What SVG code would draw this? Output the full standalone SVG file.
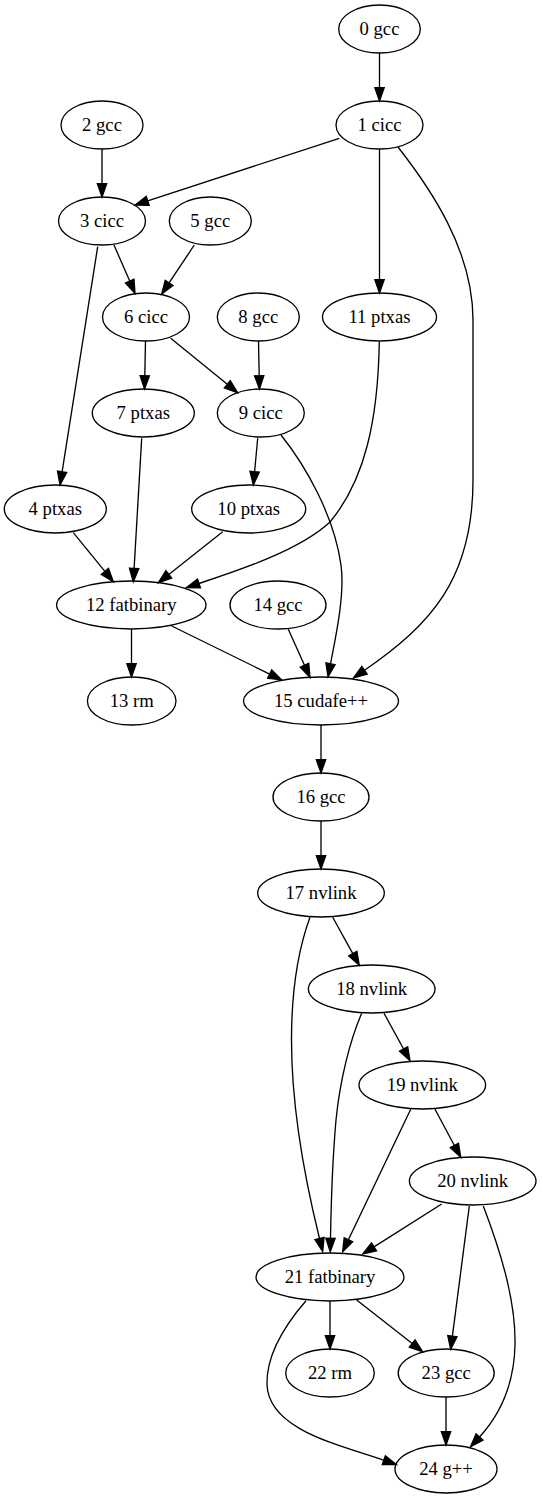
<svg xmlns="http://www.w3.org/2000/svg" width="542" height="1499" viewBox="0 0 542 1499">
<style>
.n ellipse{fill:none;stroke:#000;stroke-width:1.33}
.n text{font-family:"Liberation Serif","Times New Roman",serif;font-size:18.67px;text-anchor:middle;fill:#000}
.e path{fill:none;stroke:#000;stroke-width:1.33;marker-end:url(#a)}
</style>
<defs>
<marker id="a" markerUnits="userSpaceOnUse" markerWidth="18" markerHeight="14" viewBox="-2 -7 18 14" refX="0" refY="0" orient="auto" overflow="visible">
<path d="M0,-4.67 L13.33,0 L0,4.67 z" fill="#000" stroke="#000" stroke-width="1.33"/>
</marker>
</defs>
<rect width="542" height="1499" fill="#fff"/>
<g id="edges" class="e">
<path d="M379.5,53 L379.5,87.7"/>
<path d="M102,149 L102,183.7"/>
<path d="M339.3,138.3 L147.7,200.9"/>
<path d="M114,245 L129.7,281.1"/>
<path d="M194.3,245 L169.1,282.9"/>
<path d="M97.7,246.7 L62.1,471.8"/>
<path d="M145.5,341 L144.8,375.7"/>
<path d="M170.7,338.3 L227.3,384.3"/>
<path d="M258.5,341 L259.2,375.7"/>
<path d="M257.7,438.3 L254.6,471.7"/>
<path d="M379.5,149 L379.5,279.7"/>
<path d="M398,147 C430,188 473,250 473,320 L473,480 C473,580 430,625 364.5,670.3"/>
<path d="M281,435 C305,465 334,515 341,565 C345.2,595 335,640 330.5,663.8"/>
<path d="M379.3,341.7 C378,420 365,480 330,522 C300,550 240,570 199,583.5"/>
<path d="M73.3,532.7 L104.9,571.4"/>
<path d="M141.7,438.3 L134.1,568.4"/>
<path d="M222.7,531.7 L168.8,574.4"/>
<path d="M131.5,629 L131.5,663.7"/>
<path d="M171.7,626 L269.7,674.1"/>
<path d="M288.3,629.3 L304.5,665.2"/>
<path d="M321,725 L321,759.7"/>
<path d="M321,821 L321,855.7"/>
<path d="M332.7,917.3 L352.8,953.6"/>
<path d="M384,1013.3 L403.6,1049"/>
<path d="M435,1109.3 L454.4,1145.5"/>
<path d="M310,917.3 C298,950 291.5,990 291.5,1040 C291.5,1120 310,1200 319.5,1238.5"/>
<path d="M361.7,1013.3 C350,1040 340,1080 336,1120 C332,1165 331,1210 330.5,1238.3"/>
<path d="M410.7,1109.3 L348.4,1239.7"/>
<path d="M441.7,1204 L374,1246.9"/>
<path d="M469.3,1206 L452.4,1336.1"/>
<path d="M483.3,1206 C500,1250 516,1300 515,1345 C514,1390 495,1420 479.5,1437"/>
<path d="M330,1301 L330,1335.7"/>
<path d="M356.7,1300 L412.2,1343.5"/>
<path d="M306,1300.7 C285,1325 266,1355 267,1385 C269,1430 340,1445 383.8,1460.3"/>
<path d="M446,1397 L446,1431.7"/>
</g>
<g id="n0" class="n"><ellipse cx="379.5" cy="29" rx="40.8" ry="24"/><text x="379.5" y="34.6">0 gcc</text></g>
<g id="n1" class="n"><ellipse cx="379.5" cy="125" rx="43.5" ry="24"/><text x="379.5" y="130.6">1 cicc</text></g>
<g id="n2" class="n"><ellipse cx="102" cy="125" rx="41" ry="24"/><text x="102" y="130.6">2 gcc</text></g>
<g id="n3" class="n"><ellipse cx="102" cy="221" rx="43.5" ry="24"/><text x="102" y="226.6">3 cicc</text></g>
<g id="n5" class="n"><ellipse cx="210.3" cy="221" rx="41" ry="24"/><text x="210.3" y="226.6">5 gcc</text></g>
<g id="n6" class="n"><ellipse cx="146" cy="317" rx="43.5" ry="24"/><text x="146" y="322.6">6 cicc</text></g>
<g id="n8" class="n"><ellipse cx="258.3" cy="317" rx="41" ry="24"/><text x="258.3" y="322.6">8 gcc</text></g>
<g id="n11" class="n"><ellipse cx="379.5" cy="317" rx="57" ry="24"/><text x="379.5" y="322.6">11 ptxas</text></g>
<g id="n7" class="n"><ellipse cx="143.3" cy="413" rx="51" ry="24"/><text x="143.3" y="418.6">7 ptxas</text></g>
<g id="n9" class="n"><ellipse cx="260.8" cy="413" rx="43.5" ry="24"/><text x="260.8" y="418.6">9 cicc</text></g>
<g id="n4" class="n"><ellipse cx="55.3" cy="509" rx="51" ry="24"/><text x="55.3" y="514.6">4 ptxas</text></g>
<g id="n10" class="n"><ellipse cx="248.7" cy="509" rx="57" ry="24"/><text x="248.7" y="514.6">10 ptxas</text></g>
<g id="n12" class="n"><ellipse cx="131.3" cy="605" rx="74.7" ry="24"/><text x="131.3" y="610.6">12 fatbinary</text></g>
<g id="n14" class="n"><ellipse cx="278" cy="605" rx="48" ry="24"/><text x="278" y="610.6">14 gcc</text></g>
<g id="n13" class="n"><ellipse cx="131.7" cy="701" rx="44.3" ry="24"/><text x="131.7" y="706.6">13 rm</text></g>
<g id="n15" class="n"><ellipse cx="321" cy="701" rx="77.5" ry="24"/><text x="321" y="706.6">15 cudafe++</text></g>
<g id="n16" class="n"><ellipse cx="321" cy="797" rx="48" ry="24"/><text x="321" y="802.6">16 gcc</text></g>
<g id="n17" class="n"><ellipse cx="321" cy="893" rx="63.3" ry="24"/><text x="321" y="898.6">17 nvlink</text></g>
<g id="n18" class="n"><ellipse cx="371.7" cy="989" rx="63.3" ry="24"/><text x="371.7" y="994.6">18 nvlink</text></g>
<g id="n19" class="n"><ellipse cx="422.3" cy="1085" rx="63.3" ry="24"/><text x="422.3" y="1090.6">19 nvlink</text></g>
<g id="n20" class="n"><ellipse cx="472.7" cy="1181" rx="63.3" ry="24"/><text x="472.7" y="1186.6">20 nvlink</text></g>
<g id="n21" class="n"><ellipse cx="330" cy="1277" rx="74" ry="24"/><text x="330" y="1282.6">21 fatbinary</text></g>
<g id="n22" class="n"><ellipse cx="330" cy="1373" rx="44.3" ry="24"/><text x="330" y="1378.6">22 rm</text></g>
<g id="n23" class="n"><ellipse cx="446.2" cy="1373" rx="48" ry="24"/><text x="446.2" y="1378.6">23 gcc</text></g>
<g id="n24" class="n"><ellipse cx="446" cy="1469" rx="51" ry="24"/><text x="446" y="1474.6">24 g++</text></g>
</svg>
